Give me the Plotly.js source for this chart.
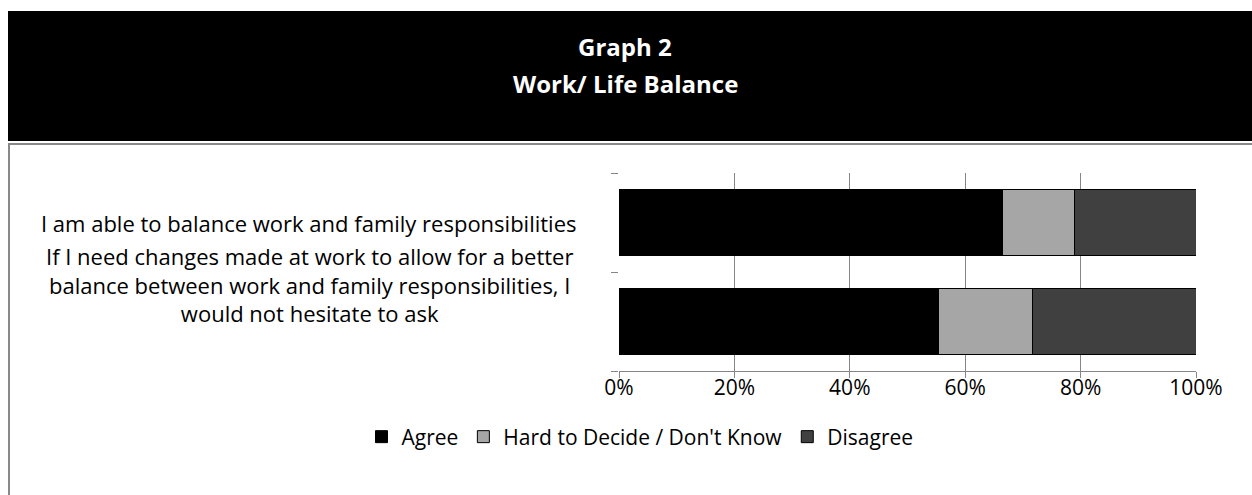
<!DOCTYPE html>
<html>
<head>
<meta charset="utf-8">
<script src="https://cdn.plot.ly/plotly-3.0.1.min.js"></script>
<style>html,body{margin:0;padding:0;background:#fff;}#chart{width:1252px;height:495px;}</style>
</head>
<body>
<div id="chart"></div>
<script>
const categories = [
  "I am able to balance work and family responsibilities",
  "If I need changes made at work to allow for a better balance between work and family responsibilities, I would not hesitate to ask"
];
const categoryLabels = [
  "I am able to balance work and family responsibilities",
  "If I need changes made at work to allow for a better<br>balance between work and family responsibilities, I<br>would not hesitate to ask"
];
const titleLines = ["Graph 2", "Work/ Life Balance"];
const seriesNames = ["Agree", "Hard to Decide / Don't Know", "Disagree"];
const agree = [0.664, 0.553];
const hardToDecide = [0.125, 0.163];
const disagree = [0.211, 0.284];
const xTickValues = [0, 0.2, 0.4, 0.6, 0.8, 1.0];
const xTickLabels = ["0%", "20%", "40%", "60%", "80%", "100%"];

const W = 1252, H = 495;
const px = v => v / W;
const py = v => 1 - v / H;
const FONT = "'Open Sans', Lato, sans-serif";
const colors = ["#000000", "#A6A6A6", "#404040"];
const values = [agree, hardToDecide, disagree];

const traces = values.map((vals, i) => ({
  type: "bar",
  orientation: "h",
  name: seriesNames[i],
  y: categories,
  x: vals,
  width: 0.66,
  marker: {color: colors[i], line: {color: "#000000", width: 1}},
  hoverinfo: "x+name"
}));

const blockShift = [0, 37];
const annotations = categories.map((c, i) => ({
  xref: "paper", yref: "y",
  x: px(309), y: c,
  yshift: blockShift[i],
  text: categoryLabels[i],
  showarrow: false,
  align: "center",
  xanchor: "center", yanchor: "middle",
  font: {family: FONT, size: 22, color: "#000"}
}));
const titleY = [46, 84];
titleLines.forEach((t, i) => annotations.push({
  xref: "paper", yref: "paper",
  x: px(625), y: py(titleY[i]),
  text: "<b>" + t + "</b>",
  showarrow: false,
  xanchor: "center", yanchor: "middle",
  font: {family: FONT, size: 24, color: "#ffffff"}
}));

const layout = {
  width: W, height: H,
  margin: {l: 0, r: 0, t: 0, b: 0},
  paper_bgcolor: "#ffffff",
  plot_bgcolor: "#ffffff",
  barmode: "stack",
  showlegend: true,
  xaxis: {
    domain: [px(619), px(1196)],
    range: [0, 1],
    tickvals: xTickValues,
    ticktext: xTickLabels,
    showgrid: true, gridcolor: "#868686", gridwidth: 1,
    zeroline: false,
    showline: true, linecolor: "#868686", linewidth: 1,
    ticks: "outside", ticklen: 6, tickcolor: "#868686",
    ticklabelstandoff: -8,
    tickfont: {family: FONT, size: 21, color: "#000"},
    fixedrange: true
  },
  yaxis: {
    domain: [py(371), py(173)],
    type: "category",
    categoryorder: "array",
    categoryarray: categories.slice().reverse(),
    showticklabels: false,
    ticks: "outside", ticklen: 7, tickcolor: "#868686", tickwidth: 1,
    tickson: "boundaries",
    showgrid: false, zeroline: false,
    showline: false,
    fixedrange: true
  },
  legend: {
    orientation: "h",
    x: px(640), xanchor: "center",
    y: py(437), yanchor: "middle",
    font: {family: FONT, size: 21, color: "#000"},
    traceorder: "normal",
    itemwidth: 30,
    bgcolor: "rgba(0,0,0,0)"
  },
  shapes: [
    {type: "rect", xref: "paper", yref: "paper", x0: px(8), x1: 1, y0: py(141), y1: py(11),
     fillcolor: "#000000", line: {width: 0}, layer: "below"},
    {type: "line", xref: "paper", yref: "paper", x0: px(8), x1: 1, y0: py(144), y1: py(144),
     line: {color: "#898989", width: 2}},
    {type: "line", xref: "paper", yref: "paper", x0: px(9), x1: px(9), y0: py(144), y1: 0,
     line: {color: "#898989", width: 2}}
  ],
  annotations: annotations
};

Plotly.newPlot("chart", traces, layout, {displayModeBar: false, staticPlot: true});
</script>
</body>
</html>
